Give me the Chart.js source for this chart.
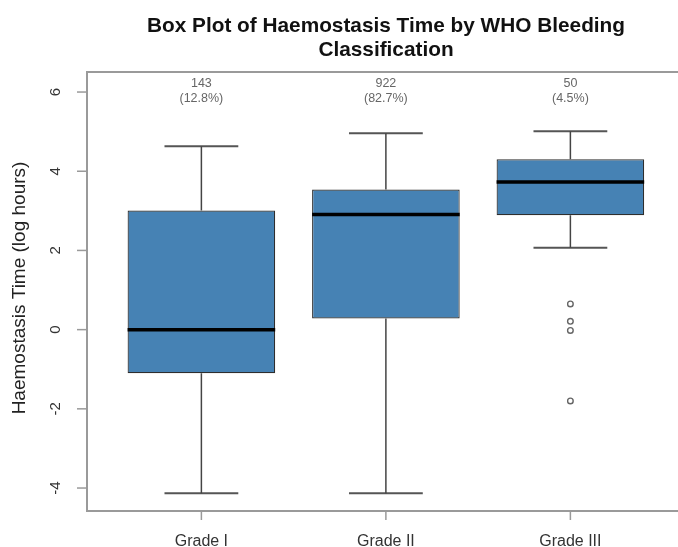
<!DOCTYPE html>
<html>
<head>
<meta charset="utf-8">
<script src="https://cdn.jsdelivr.net/npm/chart.js@4.4.0/dist/chart.umd.min.js"></script>
<style>
html, body { margin: 0; padding: 0; background: #fff; }
#wrap { width: 678px; height: 547px; }
</style>
</head>
<body>
<div id="wrap"><canvas id="boxChart"></canvas></div>
<script>
// dados
const categories = ['Grade I', 'Grade II', 'Grade III'];
const lowerWhisker = [-4.13, -4.13, 2.07];
const q1 = [-1.10, 0.28, 2.89];
const median = [0.00, 2.91, 3.73];
const q3 = [3.01, 3.54, 4.30];
const upperWhisker = [4.63, 4.96, 5.01];
const outliers = [[], [], [0.65, 0.21, -0.02, -1.80]];
const counts = [143, 922, 50];
const percents = ['12.8%', '82.7%', '4.5%'];
const yTicks = [-4, -2, 0, 2, 4, 6];

const BOX_HALF = 0.4;
const CAP_HALF = 0.2;
const FONT = '"Liberation Sans", Arial, Helvetica, sans-serif';

function seg(x1, y1, x2, y2, color, width, order) {
    return {
        type: 'scatter',
        data: [{ x: x1, y: y1 }, { x: x2, y: y2 }],
        showLine: true,
        borderColor: color,
        borderWidth: width,
        pointRadius: 0,
        pointHoverRadius: 0,
        order: order
    };
}

const datasets = [];

// medianas por cima das caixas
categories.forEach(function(c, i) {
    datasets.push(seg(i + 1 - BOX_HALF, median[i], i + 1 + BOX_HALF, median[i], '#000', 3.5, 0));
});

// caixas (Q1..Q3)
datasets.push({
    type: 'bar',
    label: 'box',
    data: categories.map(function(c, i) { return { x: i + 1, y: [q1[i], q3[i]] }; }),
    backgroundColor: '#4682B4',
    borderColor: '#2e2e2e',
    borderWidth: 1.2,
    borderSkipped: false,
    categoryPercentage: 0.8,
    barPercentage: 1.0,
    order: 2
});

// bigodes e hastes
categories.forEach(function(c, i) {
    datasets.push(seg(i + 1, q3[i], i + 1, upperWhisker[i], '#444', 1.5, 1));
    datasets.push(seg(i + 1, q1[i], i + 1, lowerWhisker[i], '#444', 1.5, 1));
    datasets.push(seg(i + 1 - CAP_HALF, upperWhisker[i], i + 1 + CAP_HALF, upperWhisker[i], '#555', 2, 1));
    datasets.push(seg(i + 1 - CAP_HALF, lowerWhisker[i], i + 1 + CAP_HALF, lowerWhisker[i], '#555', 2, 1));
});

// outliers
const outlierPoints = [];
outliers.forEach(function(list, i) {
    list.forEach(function(v) { outlierPoints.push({ x: i + 1, y: v }); });
});
datasets.push({
    type: 'scatter',
    data: outlierPoints,
    pointStyle: 'circle',
    pointRadius: 2.8,
    borderColor: '#666',
    borderWidth: 1.4,
    backgroundColor: 'rgba(255,255,255,0)',
    order: 1
});

const decorPlugin = {
    id: 'decor',
    afterDraw(chart) {
        const c = chart.ctx;
        const a = chart.chartArea;
        const xs = chart.scales.x;
        const ys = chart.scales.y;
        c.save();

        // moldura (lado direito fica fora da imagem)
        c.strokeStyle = '#9a9a9a';
        c.lineWidth = 2;
        c.beginPath();
        c.moveTo(chart.width, a.top);
        c.lineTo(a.left, a.top);
        c.lineTo(a.left, a.bottom);
        c.lineTo(chart.width, a.bottom);
        c.stroke();

        // eixo y
        c.lineWidth = 1.5;
        c.fillStyle = '#333';
        c.font = '15px ' + FONT;
        c.textAlign = 'center';
        c.textBaseline = 'middle';
        yTicks.forEach(function(v) {
            const py = ys.getPixelForValue(v);
            c.beginPath();
            c.moveTo(a.left - 10, py);
            c.lineTo(a.left, py);
            c.stroke();
            c.save();
            c.translate(56, py);
            c.rotate(-Math.PI / 2);
            c.fillText(String(v), 0, 0);
            c.restore();
        });

        // eixo x
        c.font = '16px ' + FONT;
        c.textBaseline = 'alphabetic';
        categories.forEach(function(cat, i) {
            const px = xs.getPixelForValue(i + 1);
            c.beginPath();
            c.moveTo(px, a.bottom);
            c.lineTo(px, a.bottom + 9);
            c.stroke();
            c.fillText(cat, px, 546);
        });

        // contagens
        c.fillStyle = '#666';
        c.font = '12.5px ' + FONT;
        c.textBaseline = 'middle';
        categories.forEach(function(cat, i) {
            const px = xs.getPixelForValue(i + 1);
            c.fillText(String(counts[i]), px, a.top + 12);
            c.fillText('(' + percents[i] + ')', px, a.top + 27);
        });

        // título
        c.fillStyle = '#111';
        c.font = 'bold 20.8px ' + FONT;
        c.fillText('Box Plot of Haemostasis Time by WHO Bleeding', 386, 26);
        c.fillText('Classification', 386, 50);

        // título do eixo y
        c.fillStyle = '#222';
        c.font = '19px ' + FONT;
        c.save();
        c.translate(20, 288);
        c.rotate(-Math.PI / 2);
        c.fillText('Haemostasis Time (log hours)', 0, 0);
        c.restore();

        c.restore();
    }
};

const ctx = document.getElementById('boxChart').getContext('2d');
const boxChart = new Chart(ctx, {
    data: { datasets: datasets },
    options: {
        responsive: true,
        maintainAspectRatio: false,
        animation: false,
        layout: { padding: { left: 87, top: 72, right: 1, bottom: 36 } },
        plugins: { legend: { display: false }, tooltip: { enabled: false } },
        scales: {
            x: {
                type: 'linear',
                display: false,
                offset: false,
                min: 0.38,
                max: 3.554,
                afterBuildTicks: function(axis) {
                    axis.ticks = categories.map(function(c, i) { return { value: i + 1 }; });
                }
            },
            y: {
                type: 'linear',
                display: false,
                min: -4.58,
                max: 6.506
            }
        }
    },
    plugins: [decorPlugin]
});
</script>
</body>
</html>
